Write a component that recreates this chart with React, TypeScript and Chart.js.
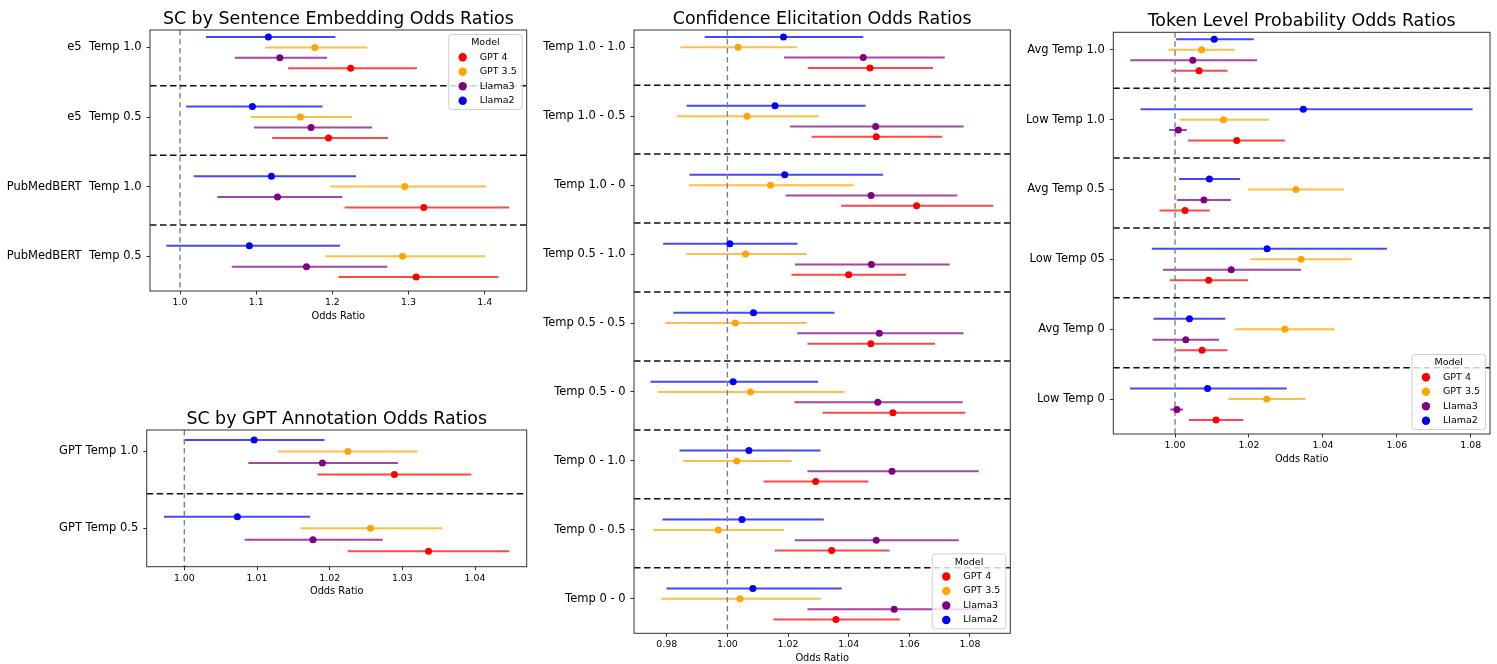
import React, { useEffect, useRef } from 'react';
import { Chart, registerables } from 'chart.js';

Chart.register(...registerables);

// [odds ratio, lower CI, upper CI] per category
type Triple = [number, number, number];

const MODEL_NAMES = ['GPT 4', 'GPT 3.5', 'Llama3', 'Llama2'];
const LEGEND_TITLE = 'Model';
const X_LABEL = 'Odds Ratio';

// ---------- SC by Sentence Embedding ----------
const SE_TITLE = 'SC by Sentence Embedding Odds Ratios';
const SE_CATEGORIES = ['e5  Temp 1.0', 'e5  Temp 0.5', 'PubMedBERT  Temp 1.0', 'PubMedBERT  Temp 0.5'];
const SE_GPT4: Triple[] = [[1.224, 1.142, 1.311], [1.195, 1.121, 1.273], [1.320, 1.216, 1.432], [1.310, 1.208, 1.418]];
const SE_GPT35: Triple[] = [[1.177, 1.112, 1.246], [1.158, 1.093, 1.226], [1.295, 1.197, 1.402], [1.292, 1.191, 1.401]];
const SE_LLAMA3: Triple[] = [[1.131, 1.072, 1.193], [1.172, 1.097, 1.252], [1.128, 1.049, 1.213], [1.166, 1.068, 1.272]];
const SE_LLAMA2: Triple[] = [[1.116, 1.034, 1.204], [1.095, 1.008, 1.187], [1.120, 1.018, 1.231], [1.091, 0.982, 1.210]];
const SE_X_TICKS = [1.0, 1.1, 1.2, 1.3, 1.4];

// ---------- SC by GPT Annotation ----------
const GA_TITLE = 'SC by GPT Annotation Odds Ratios';
const GA_CATEGORIES = ['GPT Temp 1.0', 'GPT Temp 0.5'];
const GA_GPT4: Triple[] = [[1.0289, 1.0183, 1.0395], [1.0336, 1.0225, 1.0447]];
const GA_GPT35: Triple[] = [[1.0225, 1.0129, 1.0321], [1.0256, 1.0160, 1.0355]];
const GA_LLAMA3: Triple[] = [[1.0190, 1.0088, 1.0294], [1.0177, 1.0083, 1.0273]];
const GA_LLAMA2: Triple[] = [[1.0096, 1.0000, 1.0193], [1.0073, 0.9972, 1.0173]];
const GA_X_TICKS = [1.0, 1.01, 1.02, 1.03, 1.04];

// ---------- Confidence Elicitation ----------
const CE_TITLE = 'Confidence Elicitation Odds Ratios';
const CE_CATEGORIES = ['Temp 1.0 - 1.0', 'Temp 1.0 - 0.5', 'Temp 1.0 - 0', 'Temp 0.5 - 1.0', 'Temp 0.5 - 0.5', 'Temp 0.5 - 0', 'Temp 0 - 1.0', 'Temp 0 - 0.5', 'Temp 0 - 0'];
const CE_GPT4: Triple[] = [[1.0470, 1.0265, 1.0678], [1.0491, 1.0278, 1.0708], [1.0624, 1.0375, 1.0877], [1.0400, 1.0211, 1.0589], [1.0473, 1.0264, 1.0685], [1.0546, 1.0314, 1.0784], [1.0291, 1.0119, 1.0465], [1.0344, 1.0156, 1.0535], [1.0358, 1.0152, 1.0568]];
const CE_GPT35: Triple[] = [[1.0035, 0.9845, 1.0229], [1.0065, 0.9833, 1.0301], [1.0142, 0.9873, 1.0417], [1.0060, 0.9864, 1.0262], [1.0026, 0.9795, 1.0262], [1.0076, 0.9771, 1.0387], [1.0031, 0.9854, 1.0212], [0.9970, 0.9756, 1.0187], [1.0042, 0.9782, 1.0309]];
const CE_LLAMA3: Triple[] = [[1.0448, 1.0187, 1.0717], [1.0489, 1.0207, 1.0779], [1.0474, 1.0192, 1.0758], [1.0475, 1.0223, 1.0733], [1.0501, 1.0230, 1.0779], [1.0496, 1.0221, 1.0776], [1.0543, 1.0264, 1.0829], [1.0491, 1.0222, 1.0763], [1.0550, 1.0264, 1.0833]];
const CE_LLAMA2: Triple[] = [[1.0185, 0.9925, 1.0448], [1.0157, 0.9865, 1.0456], [1.0189, 0.9875, 1.0513], [1.0008, 0.9788, 1.0231], [1.0086, 0.9822, 1.0353], [1.0019, 0.9746, 1.0299], [1.0071, 0.9842, 1.0307], [1.0048, 0.9786, 1.0318], [1.0084, 0.9799, 1.0377]];
const CE_X_TICKS = [0.98, 1.0, 1.02, 1.04, 1.06, 1.08];

// ---------- Token Level Probability ----------
const TL_TITLE = 'Token Level Probability Odds Ratios';
const TL_CATEGORIES = ['Avg Temp 1.0', 'Low Temp 1.0', 'Avg Temp 0.5', 'Low Temp 05', 'Avg Temp 0', 'Low Temp 0'];
const TL_GPT4: Triple[] = [[1.0065, 0.9990, 1.0142], [1.0167, 1.0035, 1.0297], [1.0027, 0.9958, 1.0094], [1.0091, 0.9986, 1.0198], [1.0073, 1.0003, 1.0142], [1.0111, 1.0037, 1.0185]];
const TL_GPT35: Triple[] = [[1.0072, 0.9982, 1.0161], [1.0131, 1.0012, 1.0254], [1.0327, 1.0197, 1.0457], [1.0341, 1.0204, 1.0478], [1.0297, 1.0163, 1.0431], [1.0248, 1.0144, 1.0353]];
const TL_LLAMA3: Triple[] = [[1.0048, 0.9879, 1.0222], [1.0009, 0.9984, 1.0032], [1.0078, 1.0005, 1.0151], [1.0152, 0.9967, 1.0341], [1.0029, 0.9939, 1.0119], [1.0005, 0.9987, 1.0022]];
const TL_LLAMA2: Triple[] = [[1.0106, 1.0003, 1.0213], [1.0347, 0.9907, 1.0805], [1.0093, 1.0011, 1.0176], [1.0249, 0.9937, 1.0573], [1.0039, 0.9942, 1.0136], [1.0088, 0.9878, 1.0302]];
const TL_X_TICKS = [1.0, 1.02, 1.04, 1.06, 1.08];

const REFERENCE_OR = 1.0;

// ---------- styling / layout ----------
const COLORS = ['#ff0000', '#ffa500', '#800080', '#0000ff'];
const ROW_OFFSETS = [0.3, 0, 0.15, -0.15];
const SEPARATOR_OFFSET = 0.55;
const FONT = "'DejaVu Sans', 'Liberation Sans', sans-serif";

interface Rect { x: number; y: number; w: number; h: number }
interface Area { l: number; t: number; r: number; b: number }
interface PanelSpec {
  title: string;
  categories: string[];
  series: Triple[][];
  xTicks: number[];
  decimals: number;
  xMin: number;
  xMax: number;
  yMin: number;
  legend: null | 'upper' | 'lower';
  canvas: Rect;
  area: Area;
  titleY: number;
}

function withAlpha(hex: string, a: number) {
  const n = parseInt(hex.slice(1), 16);
  return `rgba(${(n >> 16) & 255},${(n >> 8) & 255},${n & 255},${a})`;
}

const forestPlugin = {
  id: 'forest',
  beforeDatasetsDraw(chart: any, _args: any, opts: any) {
    const { ctx, chartArea: a, scales } = chart;
    const x = scales.x;
    const y = scales.y;
    ctx.save();
    ctx.beginPath();
    ctx.rect(a.left, a.top, a.right - a.left, a.bottom - a.top);
    ctx.clip();
    // confidence interval lines
    ctx.lineWidth = 2;
    ctx.lineCap = 'butt';
    chart.data.datasets.forEach((ds: any) => {
      ctx.strokeStyle = ds.errorColor;
      ds.data.forEach((p: any) => {
        const py = y.getPixelForValue(p.y);
        ctx.beginPath();
        ctx.moveTo(x.getPixelForValue(p.lo), py);
        ctx.lineTo(x.getPixelForValue(p.hi), py);
        ctx.stroke();
      });
    });
    // reference line at OR = 1
    ctx.setLineDash([5.5, 3.5]);
    ctx.strokeStyle = '#808080';
    ctx.lineWidth = 1.4;
    const rx = x.getPixelForValue(opts.reference);
    ctx.beginPath();
    ctx.moveTo(rx, a.top);
    ctx.lineTo(rx, a.bottom);
    ctx.stroke();
    // group separators
    ctx.setLineDash([6.5, 3.5]);
    ctx.strokeStyle = '#111';
    ctx.lineWidth = 1.5;
    opts.separators.forEach((v: number) => {
      const py = y.getPixelForValue(v);
      ctx.beginPath();
      ctx.moveTo(a.left, py);
      ctx.lineTo(a.right, py);
      ctx.stroke();
    });
    ctx.restore();
  },
  afterDraw(chart: any, _args: any, opts: any) {
    const { ctx, chartArea: a } = chart;
    ctx.save();
    ctx.strokeStyle = '#333';
    ctx.lineWidth = 1;
    ctx.strokeRect(a.left, a.top, a.right - a.left, a.bottom - a.top);
    if (opts.legend) {
      ctx.font = `9.5px ${FONT}`;
      const labels: string[] = chart.data.datasets.map((d: any) => d.label);
      const maxW = Math.max(...labels.map((l) => ctx.measureText(l).width));
      const w = 31 + maxW + 5.5;
      const h = 75;
      const left = a.right - 4.5 - w;
      const top = opts.legend === 'upper' ? a.top + 4.5 : a.bottom - 4.5 - h;
      ctx.beginPath();
      (ctx as any).roundRect(left, top, w, h, 3);
      ctx.fillStyle = 'rgba(255,255,255,0.8)';
      ctx.fill();
      ctx.strokeStyle = '#d0d0d0';
      ctx.stroke();
      ctx.fillStyle = '#000';
      ctx.textBaseline = 'middle';
      ctx.textAlign = 'center';
      ctx.fillText(opts.legendTitle, left + w / 2, top + 8.5);
      ctx.textAlign = 'left';
      chart.data.datasets.forEach((d: any, i: number) => {
        const cy = top + 22.7 + i * 14.5;
        ctx.beginPath();
        ctx.arc(left + 14, cy, 4.2, 0, Math.PI * 2);
        ctx.fillStyle = d.backgroundColor;
        ctx.fill();
        ctx.fillStyle = '#000';
        ctx.fillText(d.label, left + 31, cy);
      });
    }
    ctx.restore();
  },
};

function buildConfig(spec: PanelSpec): any {
  const { canvas, area } = spec;
  const titleSize = 17.4;
  const titleLH = titleSize * 1.2;
  const titleBox = area.t - canvas.y;
  const padTop = spec.titleY - canvas.y - titleLH / 2;
  const padBottom = titleBox - titleLH - padTop;
  const yAxisW = area.l - canvas.x;
  const xAxisH = canvas.y + canvas.h - area.b;
  const n = spec.categories.length;
  const datasets = spec.series.map((tri, m) => ({
    label: MODEL_NAMES[m],
    data: tri.map((t, i) => ({ x: t[0], y: i + ROW_OFFSETS[m], lo: t[1], hi: t[2] })),
    backgroundColor: COLORS[m],
    borderColor: COLORS[m],
    errorColor: withAlpha(COLORS[m], 0.72),
    pointRadius: 3.5,
    pointBorderWidth: 0,
    showLine: false,
  }));
  return {
    type: 'scatter',
    data: { datasets },
    plugins: [forestPlugin],
    options: {
      animation: false,
      responsive: true,
      maintainAspectRatio: false,
      devicePixelRatio: 1,
      events: [],
      layout: { padding: { left: 0, top: 0, bottom: 0, right: canvas.x + canvas.w - area.r } },
      plugins: {
        legend: { display: false },
        tooltip: { enabled: false },
        title: {
          display: true,
          text: spec.title,
          fullSize: false,
          color: '#000',
          font: { family: FONT, size: titleSize, weight: 'normal', lineHeight: 1.2 },
          padding: { top: padTop, bottom: Math.max(0, padBottom) },
        },
        forest: {
          reference: REFERENCE_OR,
          separators: spec.categories.slice(1).map((_, i) => i + SEPARATOR_OFFSET),
          legend: spec.legend,
          legendTitle: LEGEND_TITLE,
        },
      },
      scales: {
        x: {
          type: 'linear',
          position: 'bottom',
          min: spec.xMin,
          max: spec.xMax,
          afterBuildTicks: (s: any) => { s.ticks = spec.xTicks.map((v) => ({ value: v })); },
          afterFit: (s: any) => { s.height = xAxisH; },
          grid: { display: true, drawOnChartArea: false, drawTicks: true, tickLength: 3.5, color: '#333' },
          border: { display: false },
          ticks: {
            autoSkip: false,
            maxRotation: 0,
            padding: 2.5,
            color: '#000',
            font: { family: FONT, size: 9.4 },
            callback: (v: any) => Number(v).toFixed(spec.decimals),
          },
          title: {
            display: true,
            text: X_LABEL,
            color: '#000',
            font: { family: FONT, size: 9.8, lineHeight: 1.2 },
            padding: { top: 0, bottom: 0 },
          },
        },
        y: {
          type: 'linear',
          reverse: true,
          min: spec.yMin,
          max: n - 0.5,
          afterBuildTicks: (s: any) => { s.ticks = spec.categories.map((_, i) => ({ value: i })); },
          afterFit: (s: any) => { s.width = yAxisW; },
          grid: { display: true, drawOnChartArea: false, drawTicks: true, tickLength: 3.5, color: '#333' },
          border: { display: false },
          ticks: {
            autoSkip: false,
            padding: 5,
            color: '#000',
            font: { family: FONT, size: 11.5 },
            callback: (v: any) => spec.categories[Math.round(Number(v))] ?? '',
          },
        },
      },
    },
  };
}

const PANELS: PanelSpec[] = [
  {
    title: SE_TITLE, categories: SE_CATEGORIES, series: [SE_GPT4, SE_GPT35, SE_LLAMA3, SE_LLAMA2],
    xTicks: SE_X_TICKS, decimals: 1, xMin: 0.9606, xMax: 1.4551, yMin: -0.25, legend: 'upper',
    canvas: { x: 0, y: 0, w: 535, h: 322 }, area: { l: 150, t: 30, r: 526.7, b: 291 }, titleY: 19.5,
  },
  {
    title: GA_TITLE, categories: GA_CATEGORIES, series: [GA_GPT4, GA_GPT35, GA_LLAMA3, GA_LLAMA2],
    xTicks: GA_X_TICKS, decimals: 2, xMin: 0.99482, xMax: 1.04711, yMin: -0.28, legend: null,
    canvas: { x: 0, y: 400, w: 535, h: 197 }, area: { l: 146.7, t: 430, r: 526.7, b: 566.7 }, titleY: 419.5,
  },
  {
    title: CE_TITLE, categories: CE_CATEGORIES, series: [CE_GPT4, CE_GPT35, CE_LLAMA3, CE_LLAMA2],
    xTicks: CE_X_TICKS, decimals: 2, xMin: 0.9692, xMax: 1.0933, yMin: -0.25, legend: 'lower',
    canvas: { x: 540, y: 0, w: 480, h: 664 }, area: { l: 634, t: 30, r: 1010.3, b: 633.3 }, titleY: 19.3,
  },
  {
    title: TL_TITLE, categories: TL_CATEGORIES, series: [TL_GPT4, TL_GPT35, TL_LLAMA3, TL_LLAMA2],
    xTicks: TL_X_TICKS, decimals: 2, xMin: 0.9833, xMax: 1.0852, yMin: -0.25, legend: 'lower',
    canvas: { x: 1020, y: 0, w: 477, h: 465 }, area: { l: 1113.3, t: 32.3, r: 1490, b: 434 }, titleY: 21.3,
  },
];

function ForestPanel({ spec }: { spec: PanelSpec }) {
  const ref = useRef<HTMLCanvasElement | null>(null);
  useEffect(() => {
    if (!ref.current) return;
    const chart = new Chart(ref.current, buildConfig(spec));
    return () => chart.destroy();
  }, [spec]);
  const { x, y, w, h } = spec.canvas;
  return (
    <div style={{ position: 'absolute', left: x, top: y, width: w, height: h }}>
      <canvas ref={ref} />
    </div>
  );
}

export default function App() {
  return (
    <div style={{ position: 'absolute', left: 0, top: 0, width: 1497, height: 664, background: '#fff', overflow: 'hidden' }}>
      {PANELS.map((p) => (
        <ForestPanel key={p.title} spec={p} />
      ))}
    </div>
  );
}
